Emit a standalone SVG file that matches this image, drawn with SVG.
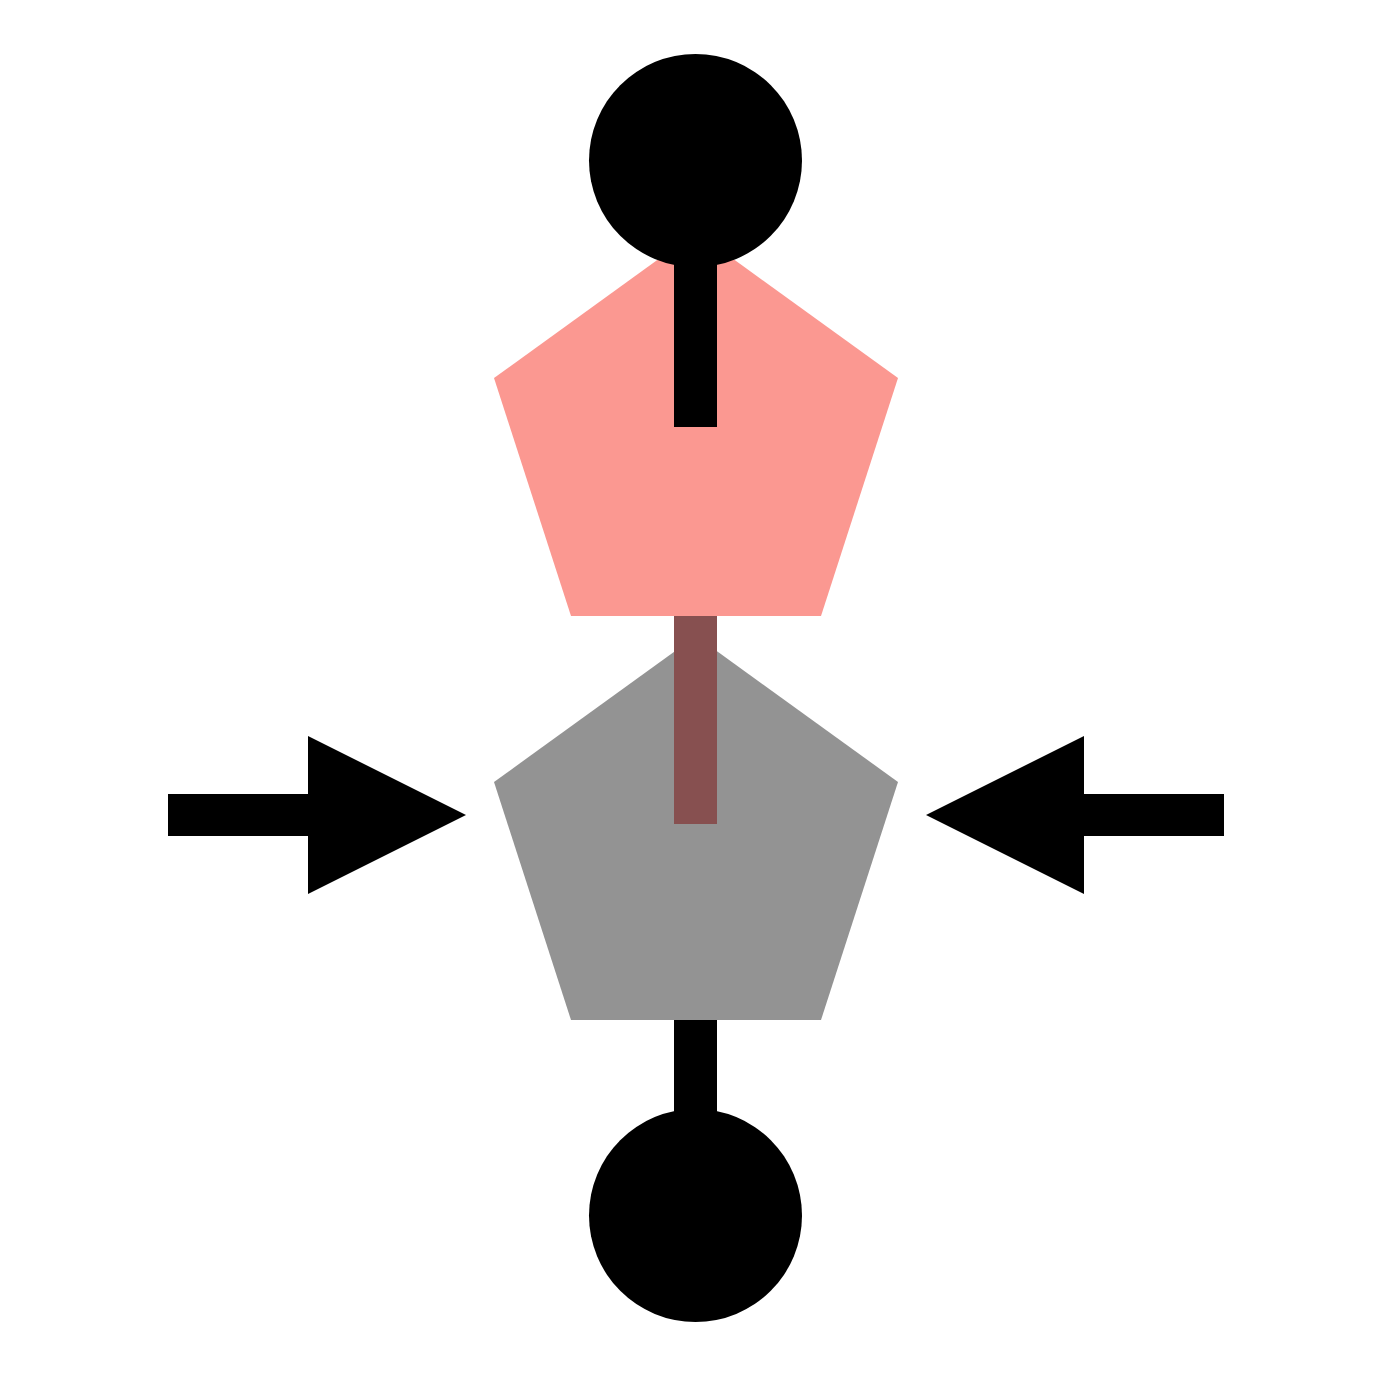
<svg xmlns="http://www.w3.org/2000/svg" width="1400" height="1400" viewBox="0 0 1400 1400">
<style>
.blk{fill:#000}
</style>
<rect width="1400" height="1400" fill="#fff"/>
<g id="node-top-pentagon"><polygon points="696,232 898,378 821,616 571,616 494,378" fill="#fb9891"/></g>
<g id="node-bottom-pentagon"><polygon points="696,636 898,782 821,1020 571,1020 494,782" fill="#939393"/></g>
<g id="connectors">
<rect class="blk" x="674" y="250" width="43" height="177"/>
<rect x="674" y="616" width="43" height="208" fill="#875050"/>
<rect class="blk" x="674" y="1020" width="43" height="110"/>
<polygon class="blk" points="168,794 308,794 308,736 466,815 308,894 308,836 168,836"/>
<polygon class="blk" points="1224,794 1084,794 1084,736 926,815 1084,894 1084,836 1224,836"/>
</g>
<g id="node-top-circle"><circle class="blk" cx="695.5" cy="160.5" r="106.5"/></g>
<g id="node-bottom-circle"><circle class="blk" cx="695.5" cy="1215.5" r="106.5"/></g>
</svg>
